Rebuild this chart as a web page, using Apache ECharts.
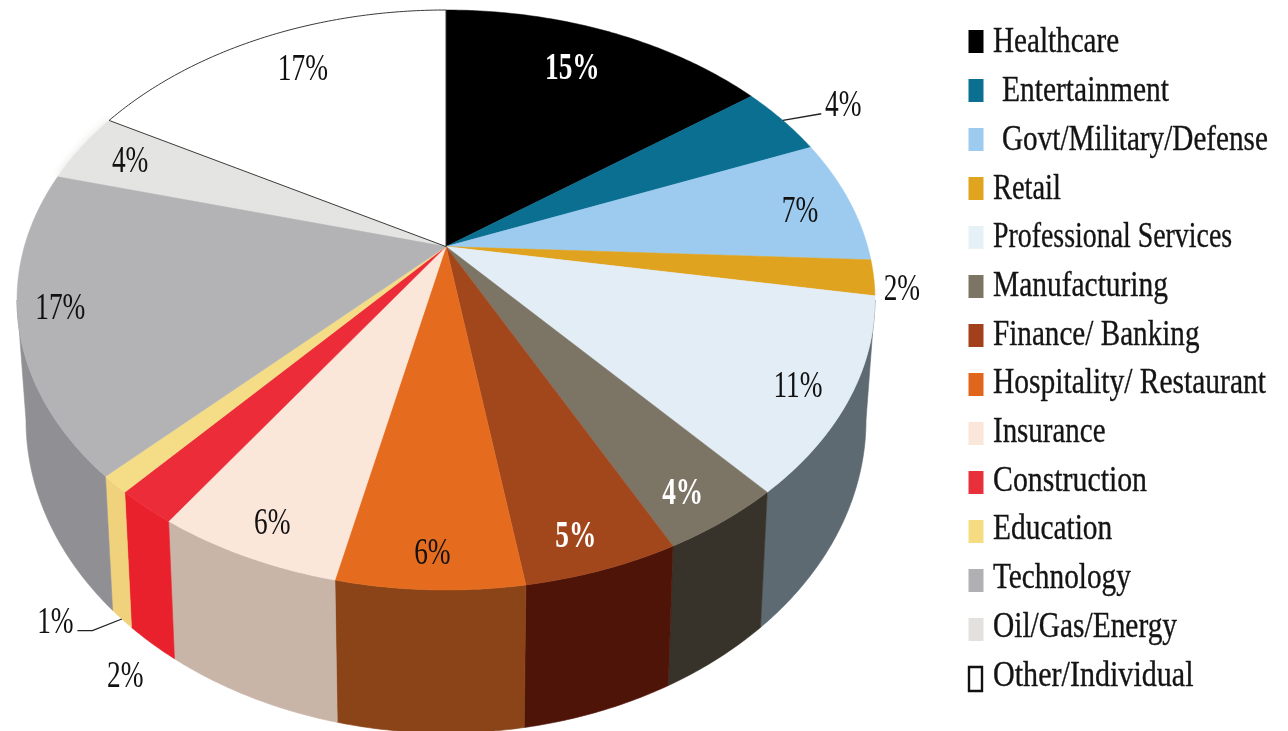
<!DOCTYPE html>
<html>
<head>
<meta charset="utf-8">
<title>Clients by industry</title>
<style>html,body{margin:0;padding:0;background:#fff}#chart{width:1288px;height:731px}</style>
<script src="https://cdn.jsdelivr.net/npm/echarts@6/dist/echarts.min.js"></script>
</head>
<body>
<div id="chart"></div>
<script>
// Share of each industry, in percent, clockwise from twelve o'clock.
const categories = ['Healthcare', 'Entertainment', 'Govt/Military/Defense', 'Retail', 'Professional Services', 'Manufacturing', 'Finance/ Banking', 'Hospitality/ Restaurant', 'Insurance', 'Construction', 'Education', 'Technology', 'Oil/Gas/Energy', 'Other/Individual'];
const shares = [15, 4, 7, 2, 11, 4, 5, 6, 6, 2, 1, 17, 4, 17];

const faceColors = ['#000000', '#0b6f92', '#9ccbef', '#dfa31f', '#e2edf6', '#7c7464', '#a2461c', '#e56c1e', '#fbe6da', '#ec2c38', '#f5dd88', '#b3b2b5', '#e4e4e2', '#ffffff'];
const wallColors = ['#000000', '#0b6f92', '#6f92ad', '#a67a18', '#5d6a72', '#37322a', '#4f1408', '#8a4418', '#c9b4a8', '#e8212c', '#f0d27c', '#909094', '#a8a8a8', '#a0a0a0'];
const swatchColors = ['#000000', '#0b6f92', '#9ccbef', '#e0a420', '#e6f0f7', '#7c7464', '#a2401c', '#e0661c', '#fbe6da', '#e8303c', '#f6dc80', '#b0afb2', '#e3e1df', '#ffffff'];
const labelColors = ['#ffffff', '#111', '#111', '#111', '#111', '#ffffff', '#ffffff', '#111', '#111', '#111', '#111', '#111', '#111', '#111'];

// Label placement: distance from the hub as a fraction of the rim, and a swing in degrees.
const labelReach = [0.825, 1.165, 0.874, 1.064, 0.879, 0.879, 0.885, 0.89, 0.885, 1.4265, 1.379, 0.9, 0.867, 0.839];
const labelSwing = [-1.4, 0.9, 0.9, 1.6, 1.3, 1.4, 1.4, -0.1, -0.5, -12.8, -9.2, 2, 0.1, 1.9];
// Legend text is a narrow face: horizontal squeeze per row, plus an indent on two rows.
const legendSqueeze = [0.809, 0.819, 0.811, 0.79, 0.774, 0.818, 0.81, 0.82, 0.804, 0.828, 0.817, 0.814, 0.817, 0.836];
const legendIndent = [0, 9, 9, 0, 0, 0, 0, 0, 0, 0, 0, 0, 0, 0];

// Tilted disc: the top face and the lower rim are two ellipses seen in perspective.
const faceRim = { cx: 446, cy: 300, rx: 429, ry: 290 };
const baseRim = { cx: 446, cy: 420, rx: 420, ry: 313 };
const foreshorten = 0.83;
const total = shares.reduce((a, b) => a + b, 0);

const cumulative = [];
shares.reduce((sum, v, i) => { cumulative[i] = sum + v; return sum + v; }, 0);

// Turns a running share into the angle on the drawn ellipse, stretched towards the viewer.
function rimAngle(running) {
  const theta = running / total * Math.PI * 2;
  const half = theta / 2;
  if (Math.abs(Math.cos(half)) < 1e-9) return theta;
  let phi = 2 * Math.atan(foreshorten * Math.tan(half));
  if (half > Math.PI / 2) phi += Math.PI * 2;
  return phi;
}
function onEllipse(e, phi) {
  return [e.cx + e.rx * Math.sin(phi), e.cy - e.ry * Math.cos(phi)];
}
const hubOffset = (1 - foreshorten * foreshorten) / (1 + foreshorten * foreshorten);
const hub = [faceRim.cx, faceRim.cy - faceRim.ry * hubOffset];

function arc(e, from, to) {
  const steps = Math.max(2, Math.ceil(Math.abs(to - from) / 0.01));
  const pts = [];
  for (let i = 0; i <= steps; i++) pts.push(onEllipse(e, from + (to - from) * i / steps));
  return pts;
}
const startOf = i => rimAngle(i === 0 ? 0 : cumulative[i - 1]);
const endOf = i => rimAngle(cumulative[i]);
const midOf = i => rimAngle(cumulative[i] - shares[i] / 2);

// Only the near half of the side wall faces the viewer.
const wallFrom = Math.PI / 2;
const wallTo = Math.PI * 3 / 2;

function renderWall(i) {
  return function () {
    const a = Math.max(startOf(i), wallFrom);
    const b = Math.min(endOf(i), wallTo);
    if (b <= a) return { type: 'group', children: [] };
    const points = arc(faceRim, a, b).concat(arc(baseRim, b, a));
    return { type: 'polygon', shape: { points }, style: { fill: wallColors[i], stroke: wallColors[i], lineWidth: 0.6 } };
  };
}
function renderFace(i) {
  return function () {
    const points = [hub].concat(arc(faceRim, startOf(i), endOf(i)));
    const outlined = categories[i] === 'Other/Individual';
    const soft = categories[i] === 'Oil/Gas/Energy';
    return {
      type: 'polygon',
      shape: { points },
      style: {
        fill: faceColors[i],
        stroke: outlined ? '#3a3a3a' : faceColors[i],
        lineWidth: outlined ? 1 : 0.5,
        shadowBlur: soft ? 10 : 0,
        shadowColor: soft ? '#e4e4e2' : 'transparent'
      }
    };
  };
}
function labelSpot(i) {
  const rim = onEllipse(faceRim, midOf(i) + labelSwing[i] * Math.PI / 180);
  return [hub[0] + labelReach[i] * (rim[0] - hub[0]), hub[1] + labelReach[i] * (rim[1] - hub[1])];
}
function renderLabel(params) {
  const i = params.dataIndex;
  const p = labelSpot(i);
  const strong = labelColors[i] === '#ffffff';
  const children = [{
    type: 'text', x: p[0], y: p[1] + 2, scaleX: 0.72,
    style: { text: shares[i] + '%', fontFamily: 'Liberation Serif', fontSize: 38, fontWeight: strong ? 'bold' : 'normal', fill: labelColors[i], align: 'center', verticalAlign: 'middle' }
  }];
  if (categories[i] === 'Entertainment') {
    children.push({ type: 'polyline', shape: { points: [onEllipse(faceRim, midOf(i)), [p[0] - 22, p[1] + 10]] }, style: { stroke: '#222', lineWidth: 1.4, fill: 'none' } });
  }
  if (categories[i] === 'Education') {
    children.push({ type: 'polyline', shape: { points: [onEllipse(baseRim, midOf(i)), [p[0] + 37, p[1] + 10], [p[0] + 22, p[1] + 10]] }, style: { stroke: '#222', lineWidth: 1.2, fill: 'none' } });
  }
  return { type: 'group', children };
}
function renderLegendRow(params) {
  const i = params.dataIndex;
  const outlined = categories[i] === 'Other/Individual';
  return {
    type: 'group',
    children: [
      {
        type: 'rect',
        shape: { x: outlined ? 969 : 968.5, y: 30 + 49 * i, width: outlined ? 13 : 15, height: outlined ? 24 : 23 },
        style: { fill: swatchColors[i], stroke: outlined ? '#111' : 'none', lineWidth: 2.4 }
      },
      {
        type: 'text', x: 993 + legendIndent[i], y: 43 + 48.7 * i, scaleX: legendSqueeze[i],
        style: { text: categories[i], fontFamily: 'Liberation Serif', fontSize: 36, fill: '#141414', stroke: '#141414', lineWidth: 0.35, align: 'left', verticalAlign: 'middle' }
      }
    ]
  };
}

const series = [];
categories.forEach((name, i) => {
  series.push({ type: 'custom', name, coordinateSystem: 'none', silent: true, z: 1, data: [shares[i]], renderItem: renderWall(i) });
});
categories.forEach((name, i) => {
  // The energy slice has a soft rim, so it goes underneath its neighbours.
  series.push({ type: 'custom', name, coordinateSystem: 'none', silent: true, z: name === 'Oil/Gas/Energy' ? 2 : 3, data: [shares[i]], renderItem: renderFace(i) });
});
series.push({ type: 'custom', name: 'labels', coordinateSystem: 'none', silent: true, z: 5, data: shares, renderItem: renderLabel });
series.push({ type: 'custom', name: 'legend', coordinateSystem: 'none', silent: true, z: 5, data: categories, renderItem: renderLegendRow });

const chart = echarts.init(document.getElementById('chart'), null, { renderer: 'canvas' });
chart.setOption({ animation: false, backgroundColor: '#ffffff', tooltip: { show: false }, series });
</script>
</body>
</html>
